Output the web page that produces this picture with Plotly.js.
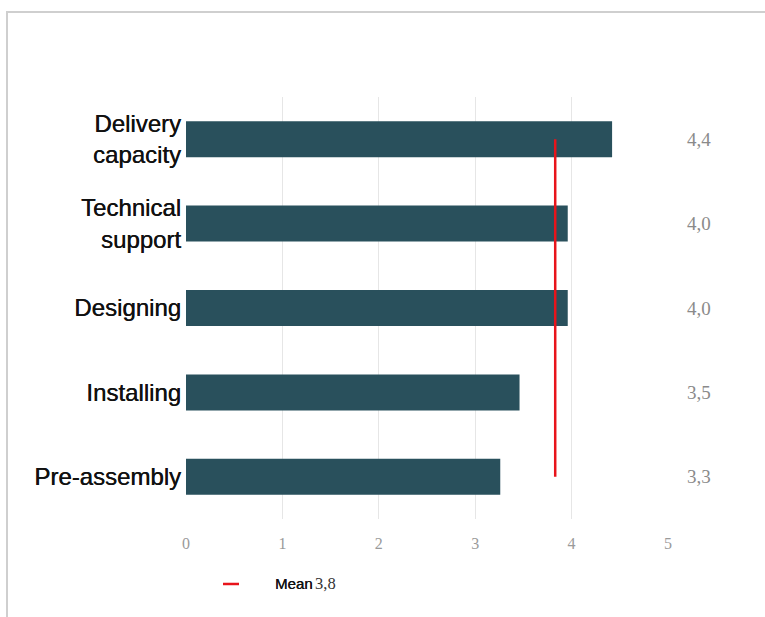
<!DOCTYPE html>
<html>
<head>
<meta charset="utf-8">
<script src="https://cdn.plot.ly/plotly-3.0.1.min.js"></script>
<style>html,body{margin:0;padding:0;background:#fff;}#chart{width:765px;height:617px;}</style>
</head>
<body>
<div id="chart"></div>
<script>
const categories = ["Delivery<br>capacity", "Technical<br>support", "Designing", "Installing", "Pre-assembly"];
const values = [4.42, 3.96, 3.96, 3.46, 3.26];
const meanValue = [3.83];
const xTicks = [0, 1, 2, 3, 4, 5];
const meanLabel = "Mean";

const fmt = v => v.toFixed(1).replace('.', ',');

const barTrace = {
  type: 'bar',
  orientation: 'h',
  x: values,
  y: categories,
  marker: {color: '#29505c'},
  showlegend: false,
  hoverinfo: 'x+y'
};

const meanTrace = {
  type: 'scatter',
  mode: 'lines',
  x: [meanValue[0], meanValue[0]],
  y: [categories[0], categories[categories.length - 1]],
  line: {color: '#e8141b', width: 2.5},
  name: meanLabel + ' ' + fmt(meanValue[0]),
  showlegend: false
};

const serif = 'Liberation Serif';
const annotations = values.map((v, i) => ({
  xref: 'paper', yref: 'y',
  x: 1.064, y: categories[i],
  text: fmt(v),
  showarrow: false,
  xanchor: 'center', yanchor: 'middle',
  font: {family: serif, size: 19, color: '#8a8a8a'}
}));

annotations.push({
  xref: 'paper', yref: 'paper',
  x: 0.1805, y: -0.154,
  xanchor: 'left', yanchor: 'middle',
  showarrow: false,
  text: meanLabel,
  font: {family: 'Liberation Sans', size: 15, color: '#111', shadow: '0.3px 0 0 #111'}
});
annotations.push({
  xref: 'paper', yref: 'paper',
  x: 0.2635, y: -0.154,
  xanchor: 'left', yanchor: 'middle',
  showarrow: false,
  text: fmt(meanValue[0]),
  font: {family: serif, size: 16.5, color: '#333'}
});

const layout = {
  width: 765,
  height: 617,
  margin: {l: 186, r: 97, t: 97, b: 98, pad: 0},
  paper_bgcolor: '#ffffff',
  plot_bgcolor: '#ffffff',
  bargap: 0.574,
  showlegend: false,
  xaxis: {
    range: [0, 5],
    tickvals: xTicks,
    ticktext: xTicks.map(String),
    showgrid: true,
    gridcolor: '#e6e6e6',
    gridwidth: 1,
    zeroline: false,
    showline: false,
    ticks: '',
    ticklabelstandoff: 13,
    tickfont: {family: serif, size: 16, color: '#9a9a9a'},
    fixedrange: true
  },
  yaxis: {
    autorange: 'reversed',
    showgrid: false,
    zeroline: false,
    showline: false,
    ticks: '',
    ticklabelstandoff: 4,
    tickfont: {family: 'Liberation Sans', size: 24, color: '#111111', shadow: '0.35px 0 0 #111'},
    fixedrange: true
  },
  annotations: annotations,
  shapes: [
    {
      type: 'rect', xref: 'paper', yref: 'paper',
      x0: -0.3714, x1: 2.0, y0: -1.0, y1: 1.2014,
      line: {color: '#cfcfcf', width: 2},
      fillcolor: 'rgba(0,0,0,0)',
      layer: 'below'
    },
    {
      type: 'line', xref: 'paper', yref: 'paper',
      x0: 0.0768, x1: 0.110, y0: -0.154, y1: -0.154,
      line: {color: '#e8141b', width: 2.5}
    }
  ]
};

Plotly.newPlot('chart', [barTrace, meanTrace], layout, {displayModeBar: false, staticPlot: true});
</script>
</body>
</html>
